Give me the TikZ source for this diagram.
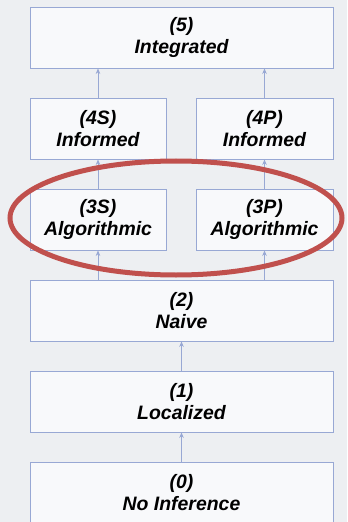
\documentclass[tikz,border=0pt]{standalone}
\usepackage{fontspec}
\setmainfont{Liberation Sans}
\definecolor{bg}{HTML}{EDEFF2}
\definecolor{boxfill}{HTML}{F8F9FB}
\definecolor{boxline}{HTML}{98A8D4}
\definecolor{ring}{HTML}{C0504D}
\usetikzlibrary{arrows.meta}
\tikzset{
  lvl/.style={draw=boxline, fill=boxfill, line width=0.9bp, align=center,
    font=\fontsize{19.5}{22}\selectfont\bfseries\itshape, inner sep=0pt},
  up/.style={draw=boxline, line width=0.8bp, -{Stealth[length=5.5bp,width=4.5bp]}}
}
\begin{document}
\begin{tikzpicture}[x=1bp,y=-1bp]
\path[fill=bg] (0,0) rectangle (347,522);
\useasboundingbox (0,0) rectangle (347,522);
\begin{scope}
\clip (0,0) rectangle (347,522);
\node[lvl, minimum width=303bp, minimum height=61bp] (l5) at (181.5,37.5) {(5)\\Integrated};
\node[lvl, minimum width=136bp, minimum height=61bp] (l4s) at (98,128.5) {(4S)\\Informed};
\node[lvl, minimum width=137bp, minimum height=61bp] (l4p) at (264.5,128.5) {(4P)\\Informed};
\node[lvl, minimum width=136bp, minimum height=61bp] (l3s) at (98,219.5) {(3S)\\Algorithmic};
\node[lvl, minimum width=137bp, minimum height=61bp] (l3p) at (264.5,219.5) {(3P)\\Algorithmic};
\node[lvl, minimum width=303bp, minimum height=61bp] (l2) at (181.5,310.5) {(2)\\Naive};
\node[lvl, minimum width=303bp, minimum height=61bp] (l1) at (181.5,401.5) {(1)\\Localized};
\node[lvl, minimum width=303bp, minimum height=61bp, text depth=0pt] (l0) at (181.5,492.5) {(0)\\No Inference};
\draw[up] (l2.north -| l3s.north) -- (l3s.south);
\draw[up] (l2.north -| l3p.north) -- (l3p.south);
\draw[up] (l3s) -- (l4s);
\draw[up] (l3p) -- (l4p);
\draw[up] (l4s.north) -- (l4s.north |- l5.south);
\draw[up] (l4p.north) -- (l4p.north |- l5.south);
\draw[up] (l1) -- (l2);
\draw[up] (l0) -- (l1);
\draw[draw=ring, line width=5bp] (176,218) ellipse [x radius=166, y radius=57];
\end{scope}
\end{tikzpicture}
\end{document}
